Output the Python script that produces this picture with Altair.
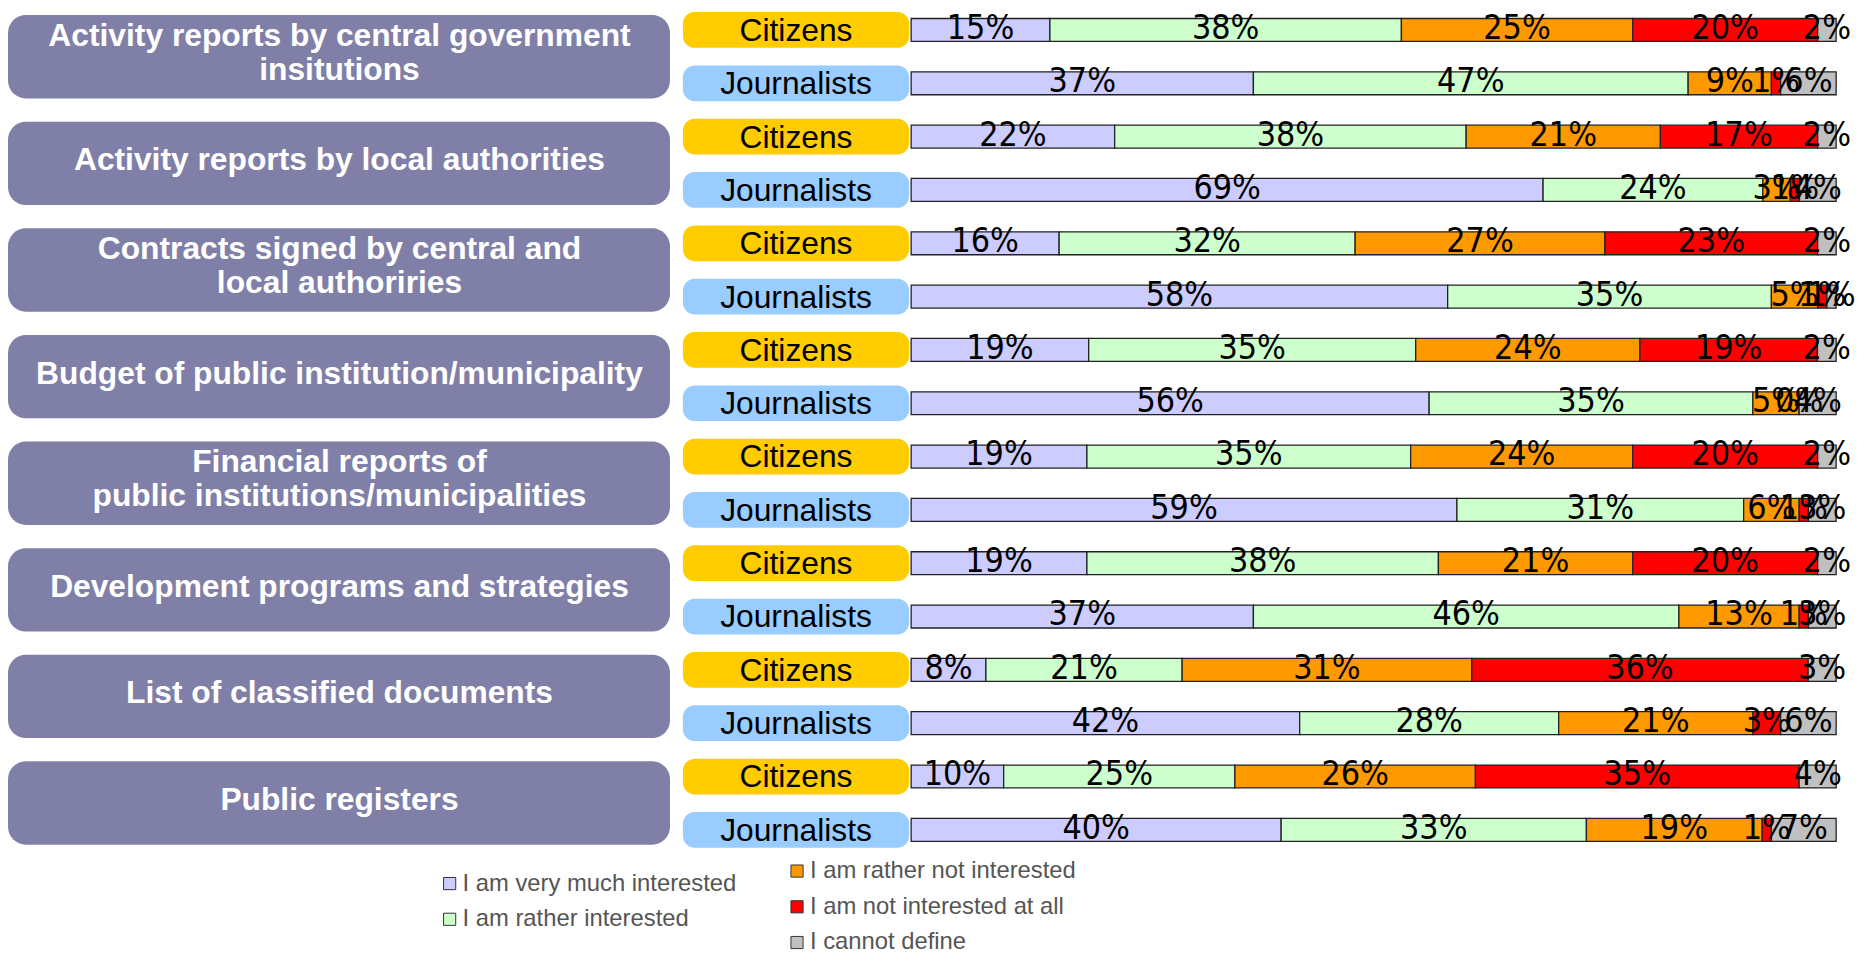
import altair as alt
import pandas as pd

topics = [
    "Activity reports by central government\ninsitutions",
    "Activity reports by local authorities",
    "Contracts signed by central and\nlocal authoriries",
    "Budget of public institution/municipality",
    "Financial reports of\npublic institutions/municipalities",
    "Development programs and strategies",
    "List of classified documents",
    "Public registers",
]
groups = ["Citizens", "Journalists"]
group_colors = ["#FFCC00", "#99CCFF"]
categories = [
    "I am very much interested",
    "I am rather interested",
    "I am rather not interested",
    "I am not interested at all",
    "I cannot define",
]
cat_colors = ["#CCCCFF", "#CCFFCC", "#FF9900", "#FF0000", "#C0C0C0"]

citizens = [
    [15, 38, 25, 20, 2],
    [22, 38, 21, 17, 2],
    [16, 32, 27, 23, 2],
    [19, 35, 24, 19, 2],
    [19, 35, 24, 20, 2],
    [19, 38, 21, 20, 2],
    [8, 21, 31, 36, 3],
    [10, 25, 26, 35, 4],
]
journalists = [
    [37, 47, 9, 1, 6],
    [69, 24, 3, 1, 4],
    [58, 35, 5, 1, 1],
    [56, 35, 5, 0, 4],
    [59, 31, 6, 1, 3],
    [37, 46, 13, 1, 3],
    [42, 28, 21, 3, 6],
    [40, 33, 19, 1, 7],
]

# ---- tables built from the arrays ----
bar_records = []
pill_records = []
for ti, t in enumerate(topics):
    for gi, g in enumerate(groups):
        vals = citizens[ti] if gi == 0 else journalists[ti]
        row = f"{ti * 2 + gi:02d}"
        pill_records.append(dict(row=row, group=g))
        for ci, c in enumerate(categories):
            bar_records.append(dict(row=row, cat=c, k=ci, pct=vals[ci], label=f"{vals[ci]}%"))
bars_df = pd.DataFrame(bar_records)
pills_df = pd.DataFrame(pill_records)
row_domain = [r["row"] for r in pill_records]

topic_df = pd.DataFrame({
    "tid": [f"{i:02d}" for i in range(len(topics))],
    "label": topics,
    "nlines": [t.count("\n") + 1 for t in topics],
})
topic_domain = list(topic_df["tid"])

leg_records = []
for i, c in enumerate(categories):
    col = 0 if i < 2 else 1
    r = i if i < 2 else i - 2
    leg_records.append(dict(cat=c, col=col, pos=r + (0.35 if col == 0 else 0.0)))
leg_df = pd.DataFrame(leg_records)

H = 843
LABEL_FONT = "Liberation Sans Narrow, Arial Narrow, DejaVu Sans Condensed, Liberation Sans, Arial"

# ---- panel A: topic boxes ----
ty = alt.Y("tid:N", scale=alt.Scale(domain=topic_domain, paddingInner=0.218, paddingOuter=0.033), axis=None)
boxes = alt.Chart(topic_df).mark_rect(color="#7F7FA8", cornerRadius=18).encode(
    y=ty, x=alt.value(0), x2=alt.value(667)
)
text_style = dict(color="white", font="Liberation Sans, Arial", fontWeight="bold", fontSize=32,
                  lineBreak="\n", lineHeight=34, baseline="middle", align="center")
box_text_1 = alt.Chart(topic_df).transform_filter("datum.nlines == 1").mark_text(dy=-3, **text_style).encode(
    y=ty, x=alt.value(334), text="label:N")
box_text_2 = alt.Chart(topic_df).transform_filter("datum.nlines > 1").mark_text(dy=-21, **text_style).encode(
    y=ty, x=alt.value(334), text="label:N")
panel_a = alt.layer(boxes, box_text_1, box_text_2).properties(width=679, height=H)

# ---- panel B: group pills ----
py = alt.Y("row:N", scale=alt.Scale(domain=row_domain, paddingInner=0.33, paddingOuter=0.01), axis=None)
pills = alt.Chart(pills_df).mark_rect(cornerRadius=12).encode(
    y=py, x=alt.value(0), x2=alt.value(228),
    color=alt.Color("group:N", scale=alt.Scale(domain=groups, range=group_colors), legend=None),
)
pill_text = alt.Chart(pills_df).mark_text(
    color="black", font="Liberation Sans, Arial", fontSize=32, baseline="middle", align="center", dy=1
).encode(y=py, x=alt.value(114), text="group:N")
panel_b = alt.layer(pills, pill_text).properties(width=228, height=H)

# ---- panel C: stacked bars ----
by = alt.Y("row:N", scale=alt.Scale(domain=row_domain, paddingInner=0.57, paddingOuter=0.13), axis=None)
bx = alt.Scale(domain=[0, 1], nice=False)
base = alt.Chart(bars_df).transform_stack(
    stack="pct", groupby=["row"], as_=["x0", "x1"], offset="normalize",
    sort=[alt.SortField("k", order="ascending")],
)
bars = base.mark_bar(stroke="#222222", strokeWidth=1.3).encode(
    y=by,
    x=alt.X("x0:Q", scale=bx, axis=None),
    x2="x1:Q",
    color=alt.Color("cat:N", scale=alt.Scale(domain=categories, range=cat_colors), legend=None),
)
bar_text = base.transform_calculate(xm="(datum.x0 + datum.x1) / 2").mark_text(
    font=LABEL_FONT, fontSize=34, color="black", baseline="middle", align="center", dy=-1
).encode(y=by, x=alt.X("xm:Q", scale=bx, axis=None), text="label:N")
panel_c = alt.layer(bars, bar_text).properties(width=932, height=H)

# ---- legend panel ----
lx = alt.X("col:Q", scale=alt.Scale(domain=[0, 1], range=[445, 795]), axis=None)
lyy = alt.Y("pos:Q", scale=alt.Scale(domain=[0, 2], range=[18, 90], zero=False, nice=False), axis=None)
leg_sq = alt.Chart(leg_df).mark_square(size=150, stroke="#333333", strokeWidth=1, opacity=1).encode(
    x=lx, y=lyy,
    color=alt.Color("cat:N", scale=alt.Scale(domain=categories, range=cat_colors), legend=None),
)
leg_txt = alt.Chart(leg_df).mark_text(
    align="left", baseline="middle", dx=13, fontSize=24, color="#555555", font="Liberation Sans, Arial"
).encode(x=lx, y=lyy, text="cat:N")
legend_panel = alt.layer(leg_sq, leg_txt).properties(width=1839, height=96)

top = alt.hconcat(panel_a, panel_b, panel_c, spacing=1).resolve_scale(color="independent")
chart = (
    alt.vconcat(top, legend_panel, spacing=5)
    .resolve_scale(color="independent")
    .properties(padding=0)
    .configure_view(strokeWidth=0)
)

chart.save("out.html", embed_options={"renderer": "svg", "actions": False})
